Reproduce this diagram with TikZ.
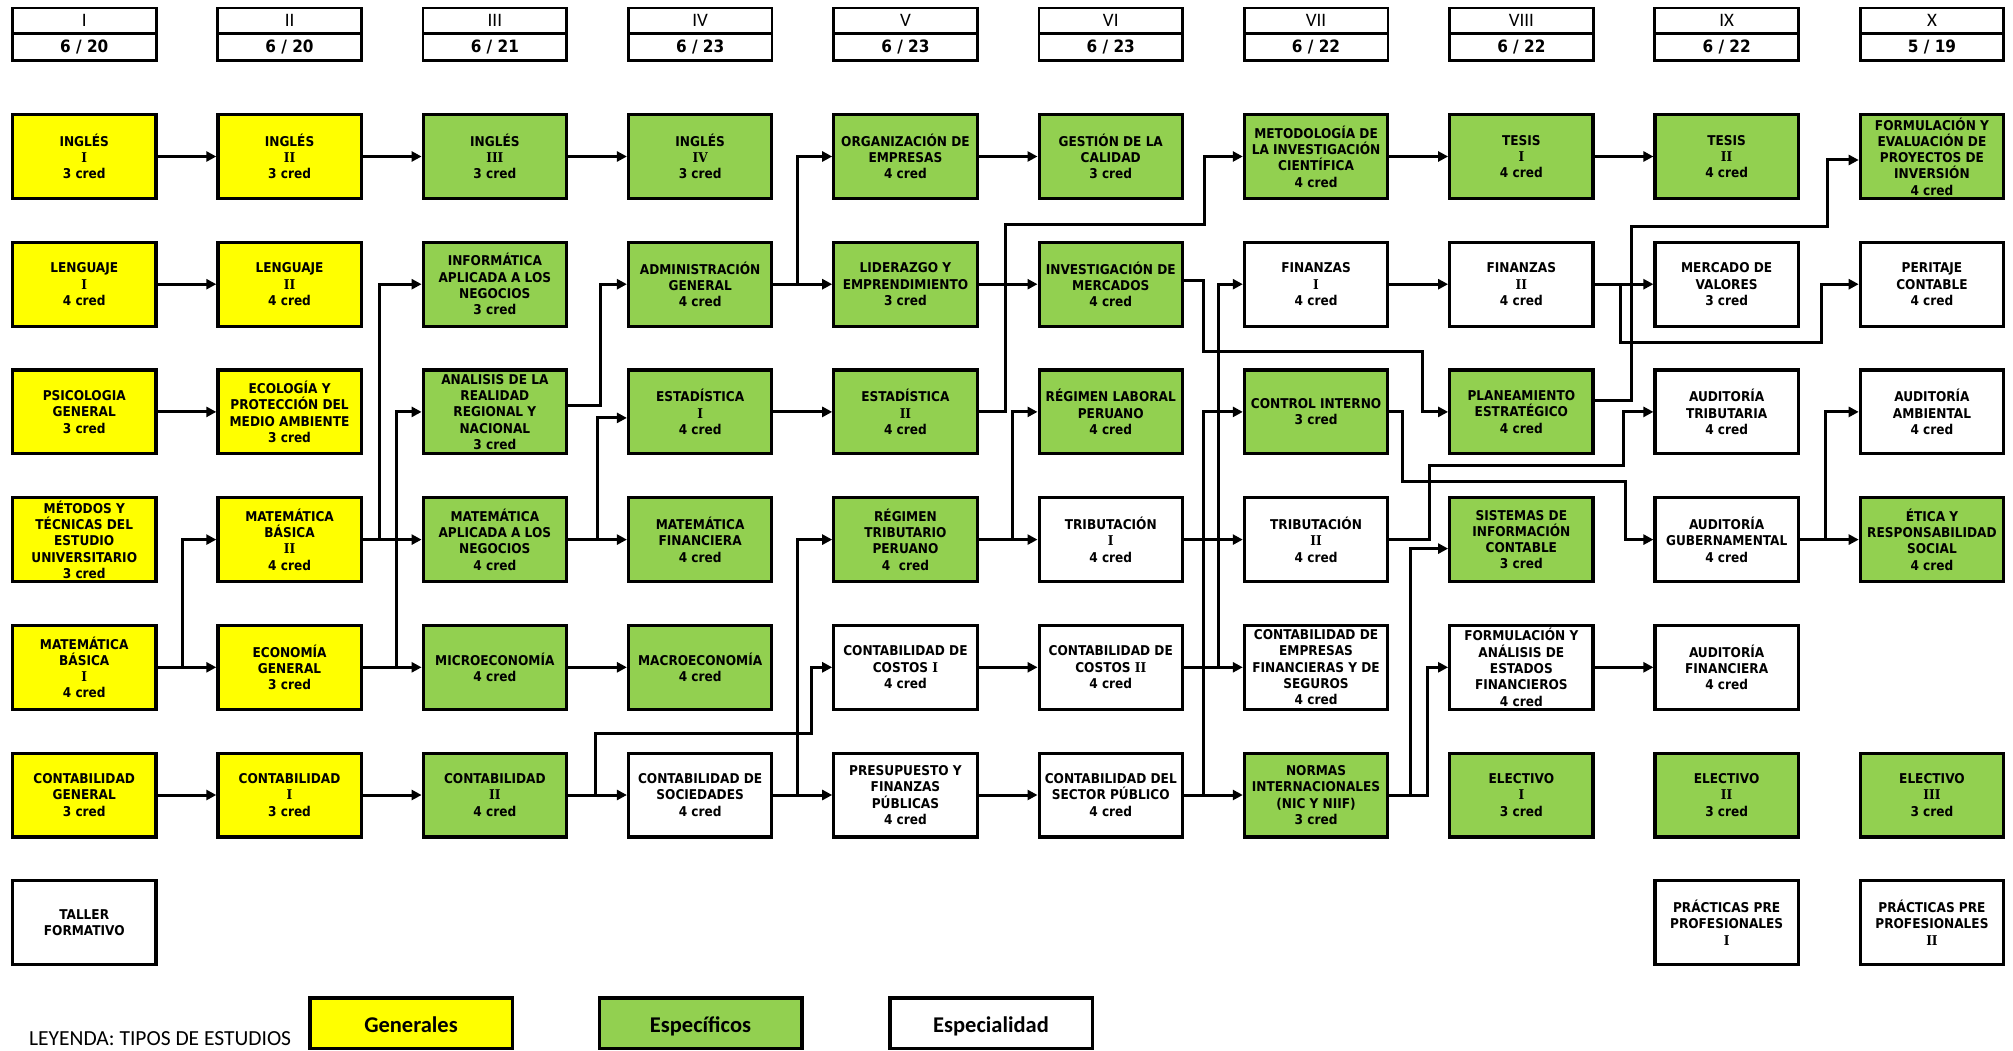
\documentclass[tikz,border=0pt]{standalone}
\usepackage{fontspec}
\usetikzlibrary{arrows.meta}
\newfontfamily\boxfont{DejaVu Sans Condensed}
\newfontfamily\rnfontfam{DejaVu Serif Condensed}
\newfontfamily\calfont{Carlito}
\definecolor{gen}{HTML}{FFFF00}
\definecolor{esp}{HTML}{92D050}
\newcommand\rn[1]{{\rnfontfam\bfseries #1}}
\begin{document}
\begin{tikzpicture}[x=1pt,y=-1pt,
  box/.style={draw, line width=3.2pt, minimum width=143.3pt, minimum height=83.8pt, inner sep=1pt, align=center, font=\boxfont\bfseries\fontsize{13.5}{16.3}\selectfont},
  G/.style={box, fill=gen}, S/.style={box, fill=esp}, W/.style={box, fill=white},
  hdr/.style={draw, line width=2.8pt, minimum width=143.7pt, inner sep=0pt, fill=white},
  hnum/.style={hdr, minimum height=25.1pt, font=\calfont\fontsize{19}{19}\selectfont},
  hcr/.style={hdr, minimum height=26.9pt, font=\boxfont\bfseries\fontsize{17}{17}\selectfont},
  arr/.style={line width=3pt, -{Triangle[length=10pt,width=10pt]}},
  legbox/.style={draw, line width=3.5pt, minimum width=202.5pt, minimum height=50.5pt, inner sep=0pt, text height=19pt, text depth=0pt, font=\calfont\bfseries\fontsize{22.5}{22.5}\selectfont},
]
\useasboundingbox (0,0) rectangle (2013,1051);
\fill[white] (0,0) rectangle (2013,1051);

% headers
\node[hnum] (h1) at (84.25,20.65) {I};      \node[hcr] (k1) at (84.25,46.85) {6 / 20};
\node[hnum] (h2) at (289.55,20.65) {II};    \node[hcr] (k2) at (289.55,46.85) {6 / 20};
\node[hnum] (h3) at (494.85,20.65) {III};   \node[hcr] (k3) at (494.85,46.85) {6 / 21};
\node[hnum] (h4) at (700.15,20.65) {IV};    \node[hcr] (k4) at (700.15,46.85) {6 / 23};
\node[hnum] (h5) at (905.45,20.65) {V};     \node[hcr] (k5) at (905.45,46.85) {6 / 23};
\node[hnum] (h6) at (1110.75,20.65) {VI};   \node[hcr] (k6) at (1110.75,46.85) {6 / 23};
\node[hnum] (h7) at (1316.05,20.65) {VII};  \node[hcr] (k7) at (1316.05,46.85) {6 / 22};
\node[hnum] (h8) at (1521.35,20.65) {VIII}; \node[hcr] (k8) at (1521.35,46.85) {6 / 22};
\node[hnum] (h9) at (1726.65,20.65) {IX};   \node[hcr] (k9) at (1726.65,46.85) {6 / 22};
\node[hnum] (h10) at (1931.95,20.65) {X};   \node[hcr] (k10) at (1931.95,46.85) {5 / 19};

% column I
\node[G] (c1r1) at (84.25,156.5) {INGLÉS\\\rn{I}\\3 cred};
\node[G] (c1r2) at (84.25,284.2) {LENGUAJE\\\rn{I}\\4 cred};
\node[G] (c1r3) at (84.25,411.9) {PSICOLOGIA\\GENERAL\\3 cred};
\node[G] (c1r4) at (84.25,539.6) {MÉTODOS Y\\TÉCNICAS DEL\\ESTUDIO\\UNIVERSITARIO\\3 cred};
\node[G] (c1r5) at (84.25,667.3) {MATEMÁTICA\\BÁSICA\\\rn{I}\\4 cred};
\node[G] (c1r6) at (84.25,795) {CONTABILIDAD\\GENERAL\\3 cred};
\node[W] (c1r7) at (84.25,922.7) {TALLER\\FORMATIVO};
% column II
\node[G] (c2r1) at (289.55,156.5) {INGLÉS\\\rn{II}\\3 cred};
\node[G] (c2r2) at (289.55,284.2) {LENGUAJE\\\rn{II}\\4 cred};
\node[G] (c2r3) at (289.55,411.9) {ECOLOGÍA Y\\PROTECCIÓN DEL\\MEDIO AMBIENTE\\3 cred};
\node[G] (c2r4) at (289.55,539.6) {MATEMÁTICA\\BÁSICA\\\rn{II}\\4 cred};
\node[G] (c2r5) at (289.55,667.3) {ECONOMÍA\\GENERAL\\3 cred};
\node[G] (c2r6) at (289.55,795) {CONTABILIDAD\\\rn{I}\\3 cred};
% column III
\node[S] (c3r1) at (494.85,156.5) {INGLÉS\\\rn{III}\\3 cred};
\node[S] (c3r2) at (494.85,284.2) {INFORMÁTICA\\APLICADA A LOS\\NEGOCIOS\\3 cred};
\node[S] (c3r3) at (494.85,411.9) {ANALISIS DE LA\\REALIDAD\\REGIONAL Y\\NACIONAL\\3 cred};
\node[S] (c3r4) at (494.85,539.6) {MATEMÁTICA\\APLICADA A LOS\\NEGOCIOS\\4 cred};
\node[S] (c3r5) at (494.85,667.3) {MICROECONOMÍA\\4 cred};
\node[S] (c3r6) at (494.85,795) {CONTABILIDAD\\\rn{II}\\4 cred};
% column IV
\node[S] (c4r1) at (700.15,156.5) {INGLÉS\\\rn{IV}\\3 cred};
\node[S] (c4r2) at (700.15,284.2) {ADMINISTRACIÓN\\GENERAL\\4 cred};
\node[S] (c4r3) at (700.15,411.9) {ESTADÍSTICA\\\rn{I}\\4 cred};
\node[S] (c4r4) at (700.15,539.6) {MATEMÁTICA\\FINANCIERA\\4 cred};
\node[S] (c4r5) at (700.15,667.3) {MACROECONOMÍA\\4 cred};
\node[W] (c4r6) at (700.15,795) {CONTABILIDAD DE\\SOCIEDADES\\4 cred};
% column V
\node[S] (c5r1) at (905.45,156.5) {ORGANIZACIÓN DE\\EMPRESAS\\4 cred};
\node[S] (c5r2) at (905.45,284.2) {LIDERAZGO Y\\EMPRENDIMIENTO\\3 cred};
\node[S] (c5r3) at (905.45,411.9) {ESTADÍSTICA\\\rn{II}\\4 cred};
\node[S] (c5r4) at (905.45,539.6) {RÉGIMEN\\TRIBUTARIO\\PERUANO\\4~~cred};
\node[W] (c5r5) at (905.45,667.3) {CONTABILIDAD DE\\COSTOS \rn{I}\\4 cred};
\node[W] (c5r6) at (905.45,795) {PRESUPUESTO Y\\FINANZAS\\PÚBLICAS\\4 cred};
% column VI
\node[S] (c6r1) at (1110.75,156.5) {GESTIÓN DE LA\\CALIDAD\\3 cred};
\node[S] (c6r2) at (1110.75,284.2) {INVESTIGACIÓN DE\\MERCADOS\\4 cred};
\node[S] (c6r3) at (1110.75,411.9) {RÉGIMEN LABORAL\\PERUANO\\4 cred};
\node[W] (c6r4) at (1110.75,539.6) {TRIBUTACIÓN\\\rn{I}\\4 cred};
\node[W] (c6r5) at (1110.75,667.3) {CONTABILIDAD DE\\COSTOS \rn{II}\\4 cred};
\node[W] (c6r6) at (1110.75,795) {CONTABILIDAD DEL\\SECTOR PÚBLICO\\4 cred};
% column VII
\node[S] (c7r1) at (1316.05,156.5) {METODOLOGÍA DE\\LA INVESTIGACIÓN\\CIENTÍFICA\\4 cred};
\node[W] (c7r2) at (1316.05,284.2) {FINANZAS\\\rn{I}\\4 cred};
\node[S] (c7r3) at (1316.05,411.9) {CONTROL INTERNO\\3 cred};
\node[W] (c7r4) at (1316.05,539.6) {TRIBUTACIÓN\\\rn{II}\\4 cred};
\node[W] (c7r5) at (1316.05,667.3) {CONTABILIDAD DE\\EMPRESAS\\FINANCIERAS Y DE\\SEGUROS\\4 cred};
\node[S] (c7r6) at (1316.05,795) {NORMAS\\INTERNACIONALES\\(NIC Y NIIF)\\3 cred};
% column VIII
\node[S] (c8r1) at (1521.35,156.5) {TESIS\\\rn{I}\\4 cred};
\node[W] (c8r2) at (1521.35,284.2) {FINANZAS\\\rn{II}\\4 cred};
\node[S] (c8r3) at (1521.35,411.9) {PLANEAMIENTO\\ESTRATÉGICO\\4 cred};
\node[S] (c8r4) at (1521.35,539.6) {SISTEMAS DE\\INFORMACIÓN\\CONTABLE\\3 cred};
\node[W] (c8r5) at (1521.35,667.3) {FORMULACIÓN Y\\ANÁLISIS DE\\ESTADOS\\FINANCIEROS\\4 cred};
\node[S] (c8r6) at (1521.35,795) {ELECTIVO\\\rn{I}\\3 cred};
% column IX
\node[S] (c9r1) at (1726.65,156.5) {TESIS\\\rn{II}\\4 cred};
\node[W] (c9r2) at (1726.65,284.2) {MERCADO DE\\VALORES\\3 cred};
\node[W] (c9r3) at (1726.65,411.9) {AUDITORÍA\\TRIBUTARIA\\4 cred};
\node[W] (c9r4) at (1726.65,539.6) {AUDITORÍA\\GUBERNAMENTAL\\4 cred};
\node[W] (c9r5) at (1726.65,667.3) {AUDITORÍA\\FINANCIERA\\4 cred};
\node[S] (c9r6) at (1726.65,795) {ELECTIVO\\\rn{II}\\3 cred};
\node[W] (c9r7) at (1726.65,922.7) {PRÁCTICAS PRE\\PROFESIONALES\\\rn{I}};
% column X
\node[S] (c10r1) at (1931.95,156.5) {FORMULACIÓN Y\\EVALUACIÓN DE\\PROYECTOS DE\\INVERSIÓN\\4 cred};
\node[W] (c10r2) at (1931.95,284.2) {PERITAJE\\CONTABLE\\4 cred};
\node[W] (c10r3) at (1931.95,411.9) {AUDITORÍA\\AMBIENTAL\\4 cred};
\node[S] (c10r4) at (1931.95,539.6) {ÉTICA Y\\RESPONSABILIDAD\\SOCIAL\\4 cred};
\node[S] (c10r6) at (1931.95,795) {ELECTIVO\\\rn{III}\\3 cred};
\node[W] (c10r7) at (1931.95,922.7) {PRÁCTICAS PRE\\PROFESIONALES\\\rn{II}};

% connectors
\draw[arr] (c1r1.east) -- (c2r1.west);
\draw[arr] (c2r1.east) -- (c3r1.west);
\draw[arr] (c3r1.east) -- (c4r1.west);
\draw[arr] (c1r2.east) -- (c2r2.west);
\draw[arr] (c1r3.east) -- (c2r3.west);
\draw[arr] (c1r5.east) -- (c2r5.west);
\draw[arr] (c1r5.east) -- (182,667.3) |- (c2r4.west);
\draw[arr] (c1r6.east) -- (c2r6.west);
\draw[arr] (c2r6.east) -- (c3r6.west);
\draw[arr] (c3r6.east) -- (c4r6.west);
\draw[arr] (c2r4.east) -- (c3r4.west);
\draw[arr] (c2r4.east) -- (379.5,539.6) |- (c3r2.west);
\draw[arr] (c2r5.east) -- (c3r5.west);
\draw[arr] (c2r5.east) -- (396,667.3) |- (c3r3.west);
\draw[arr] ([yshift=6pt]c3r3.east) -- (600,405.9) |- (c4r2.west);
\draw[arr] (c3r4.east) -- (c4r4.west);
\draw[arr] (c3r4.east) -- (597,539.6) |- ([yshift=-6pt]c4r3.west);
\draw[arr] (c3r5.east) -- (c4r5.west);
\draw[arr] (c3r6.east) -- (595,795) |- (811,733) |- (c5r5.west);
\draw[arr] (c4r2.east) -- (c5r2.west);
\draw[arr] (c4r2.east) -- (797,284.2) |- (c5r1.west);
\draw[arr] (c4r3.east) -- (c5r3.west);
\draw[arr] (c4r6.east) -- (c5r6.west);
\draw[arr] (c4r6.east) -- (797,795) |- (c5r4.west);
\draw[arr] (c5r1.east) -- (c6r1.west);
\draw[arr] (c5r2.east) -- (c6r2.west);
\draw[arr] (c5r3.east) -- (1005,411.9) |- (1204,225) |- (c7r1.west);
\draw[arr] (c5r4.east) -- (c6r4.west);
\draw[arr] (c5r4.east) -- (1012.5,539.6) |- (c6r3.west);
\draw[arr] (c5r5.east) -- (c6r5.west);
\draw[arr] (c5r6.east) -- (c6r6.west);
\draw[arr] ([yshift=4pt]c6r2.east) -- (1203.5,280.2) |- (1422,351) |- (c8r3.west);
\draw[arr] (c6r4.east) -- (c7r4.west);
\draw[arr] (c6r5.east) -- (c7r5.west);
\draw[arr] (c6r5.east) -- (1218,667.3) |- (c7r2.west);
\draw[arr] (c6r6.east) -- (c7r6.west);
\draw[arr] (c6r6.east) -- (1203.5,795) |- (c7r3.west);
\draw[arr] (c7r1.east) -- (c8r1.west);
\draw[arr] (c8r1.east) -- (c9r1.west);
\draw[arr] (c7r2.east) -- (c8r2.west);
\draw[arr] (c7r3.east) -- (1402.5,411.9) |- (1625,481.5) |- (c9r4.west);
\draw[arr] (c7r4.east) -- (1429,539.6) |- (1623.5,465) |- (c9r3.west);
\draw[arr] (c7r6.east) -- (1410.5,795) |- ([yshift=-9pt]c8r4.west);
\draw[arr] (c7r6.east) -- (1427,795) |- (c8r5.west);
\draw[arr] (c8r2.east) -- (c9r2.west);
\draw[arr] (c8r2.east) -- (1620.5,284.2) |- (1821,342) |- (c10r2.west);
\draw[arr] ([yshift=11pt]c8r3.east) -- (1631,400.9) |- (1827.5,227) |- ([yshift=-3.5pt]c10r1.west);
\draw[arr] (c8r5.east) -- (c9r5.west);
\draw[arr] (c9r4.east) -- (c10r4.west);
\draw[arr] (c9r4.east) -- (1825,539.6) |- (c10r3.west);

% legend
\node[anchor=base west, inner sep=0pt, font=\calfont\fontsize{21.5}{21.5}\selectfont] (leg) at (29,1045) {LEYENDA: TIPOS DE ESTUDIOS};
\node[legbox, fill=gen] (lg1) at (411,1023) {Generales};
\node[legbox, fill=esp] (lg2) at (700.5,1023) {Específicos};
\node[legbox, fill=white] (lg3) at (991,1023) {Especialidad};
\end{tikzpicture}
\end{document}
